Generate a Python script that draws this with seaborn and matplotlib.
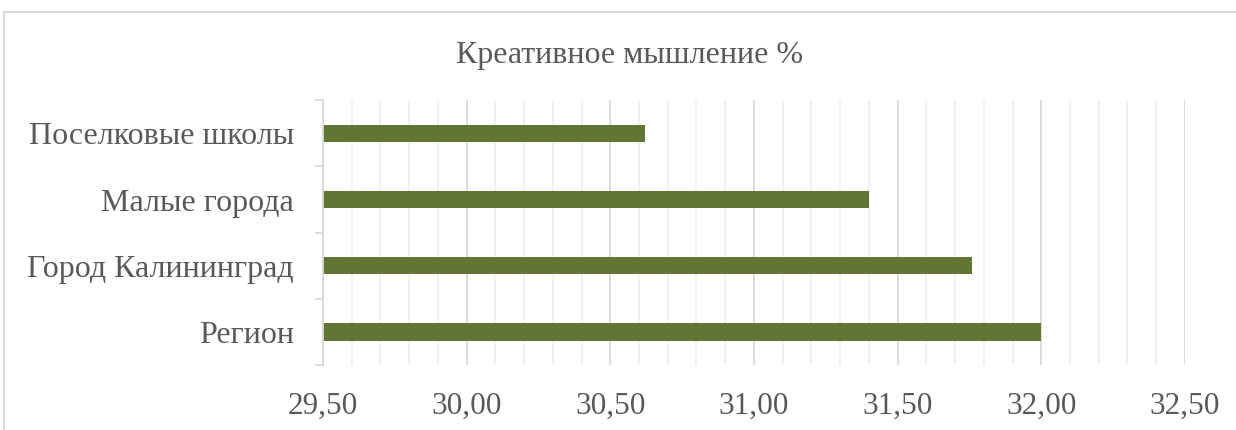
import matplotlib
matplotlib.use('Agg')
import matplotlib.pyplot as plt
import seaborn as sns
import pandas as pd
from matplotlib.ticker import MultipleLocator, FixedLocator, FuncFormatter
from matplotlib.patches import Rectangle

categories = ['Поселковые школы', 'Малые города', 'Город Калининград', 'Регион']
values = [30.62, 31.40, 31.76, 32.00]
title = 'Креативное мышление %'

sns.set_theme(style='white')
plt.rcParams['font.family'] = ['Liberation Serif', 'DejaVu Serif']

text_color = '#595959'
bar_color = '#637532'

df = pd.DataFrame({'cat': categories, 'val': values})

fig = plt.figure(figsize=(12.36, 4.30), dpi=100)
ax = fig.add_axes([0.2613, 0.151, 0.6974, 0.616])

sns.barplot(data=df, x='val', y='cat', orient='h', color=bar_color,
            saturation=1, width=0.26, ax=ax, edgecolor='none')
# bars start at 0 but the axis starts at 29.5, like the Excel original

ax.set_xlim(29.5, 32.5)
ax.xaxis.set_major_locator(MultipleLocator(0.5))
ax.xaxis.set_minor_locator(MultipleLocator(0.1))
ax.xaxis.set_major_formatter(FuncFormatter(lambda v, p: f'{v:.2f}'.replace('.', ',')))
ax.grid(which='major', axis='x', color='#d9d9d9', linewidth=1.3)
ax.grid(which='minor', axis='x', color='#f0f0f0', linewidth=1.3)
ax.set_axisbelow(True)

ax.set_ylim(3.5, -0.5)
ax.yaxis.set_minor_locator(FixedLocator([-0.5, 0.5, 1.5, 2.5, 3.5]))
ax.tick_params(axis='y', which='major', length=0, pad=21, labelsize=23, labelcolor=text_color)
ax.tick_params(axis='y', which='minor', length=6, width=1.3, color='#d9d9d9', left=True)
ax.tick_params(axis='x', which='both', length=0, pad=19, labelsize=22.5, labelcolor=text_color)

for s in ['top', 'right', 'bottom']:
    ax.spines[s].set_visible(False)
ax.spines['left'].set_color('#d9d9d9')
ax.spines['left'].set_linewidth(1.3)

ax.set_xlabel('')
ax.set_ylabel('')

fig.text(630 / 1236, 1 - 55 / 430, title, ha='center', va='center', fontsize=23, color=text_color)

# light chart-area border
fig.patches.append(Rectangle((4 / 1236, -0.05), 1.2, 1 - 12 / 430 + 0.05,
                             transform=fig.transFigure, fill=False,
                             edgecolor='#d9d9d9', linewidth=1.5))

fig.savefig('out.png', dpi=100)
